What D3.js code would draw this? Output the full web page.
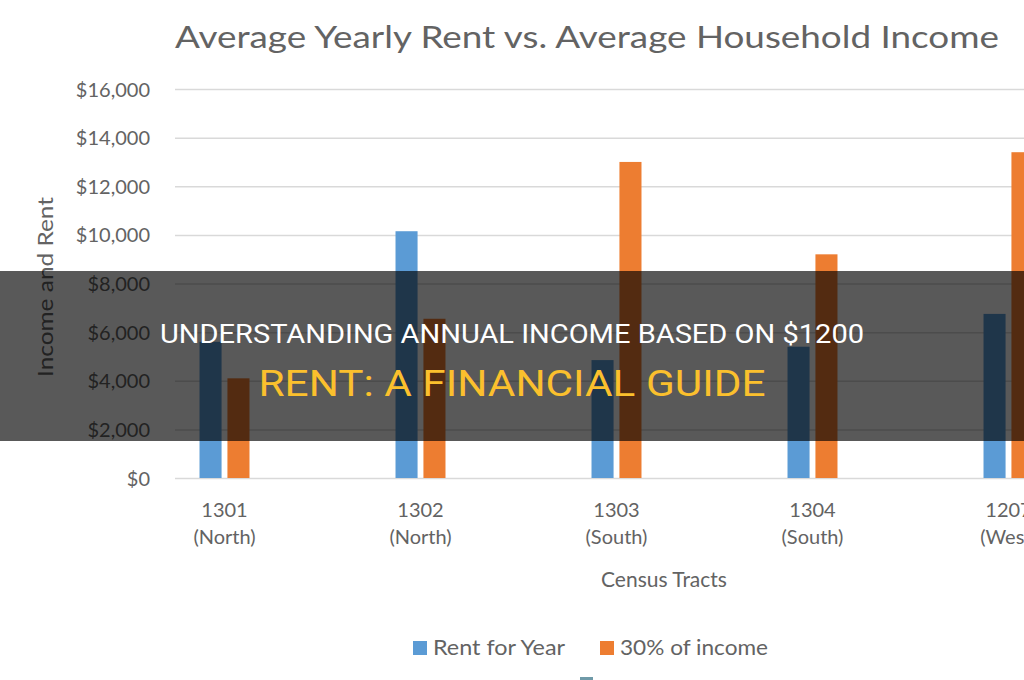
<!DOCTYPE html>
<html>
<head>
<meta charset="utf-8">
<script src="https://cdn.jsdelivr.net/npm/d3@7"></script>
<style>
  html, body { margin: 0; padding: 0; background: #ffffff; }
  svg { display: block; }
</style>
</head>
<body>
<svg id="chart" width="1024" height="680"></svg>
<script>
// ---- data ----
const categories = ["1301", "1302", "1303", "1304", "1207"];
const regions = ["(North)", "(North)", "(South)", "(South)", "(West)"];
const seriesNames = ["Rent for Year", "30% of income"];
const rentForYear = [5600, 10150, 4850, 5400, 6750];
const incomeThirty = [4100, 6550, 13000, 9200, 13400];
const yTicks = [0, 2000, 4000, 6000, 8000, 10000, 12000, 14000, 16000];
const chartTitle = "Average Yearly Rent vs. Average Household Income";
const xTitle = "Census Tracts";
const yTitle = "Income and Rent";
const bannerLine1 = "UNDERSTANDING ANNUAL INCOME BASED ON $1200";
const bannerLine2 = "RENT: A FINANCIAL GUIDE";

const colors = ["#5b9bd5", "#ed7d31"];
const textColor = "#636363";
const font = "Lato, 'Open Sans', sans-serif";

const svg = d3.select("#chart");
const W = 1024, H = 680;
svg.append("rect").attr("width", W).attr("height", H).attr("fill", "#fff");

const plotLeft = 175, plotTop = 89, plotBottom = 478;

const y = d3.scaleLinear().domain([0, 16000]).range([plotBottom, plotTop]);
const x0 = d3.scaleBand().domain(categories).range([126.5, 1106.5])
  .paddingInner(0.745).paddingOuter(0.3725);
const x1 = d3.scaleBand().domain(seriesNames).range([0, x0.bandwidth()]).paddingInner(0.21);

// gridlines
const grid = svg.append("g").attr("transform", `translate(${plotLeft},0)`)
  .call(d3.axisLeft(y).tickValues(yTicks).tickSize(-(W - plotLeft)).tickFormat(""));
grid.select(".domain").remove();
grid.selectAll(".tick line").attr("stroke", "#d9d9d9").attr("stroke-width", 1.5);

// y axis labels
const yAxis = svg.append("g").attr("transform", `translate(${plotLeft},0)`)
  .call(d3.axisLeft(y).tickValues(yTicks).tickSize(0).tickPadding(25)
    .tickFormat(d3.format("$,")));
yAxis.select(".domain").remove();
yAxis.selectAll("text").attr("fill", textColor).attr("font-family", font)
  .attr("font-size", 20).attr("dy", "0.35em");

// bars
const data = categories.map((c, i) => ({ cat: c, vals: [rentForYear[i], incomeThirty[i]] }));
const groups = svg.append("g").selectAll("g").data(data).join("g")
  .attr("transform", d => `translate(${x0(d.cat)},0)`);
groups.selectAll("rect").data(d => d.vals.map((v, j) => ({ s: seriesNames[j], v, j })))
  .join("rect")
  .attr("x", d => x1(d.s))
  .attr("width", x1.bandwidth())
  .attr("y", d => y(d.v))
  .attr("height", d => y(0) - y(d.v))
  .attr("fill", d => colors[d.j]);

// x axis category labels
const xLab = svg.append("g").selectAll("text").data(categories).join("text")
  .attr("x", d => x0(d) + x0.bandwidth() / 2)
  .attr("y", 517)
  .attr("text-anchor", "middle")
  .attr("fill", textColor).attr("font-family", font).attr("font-size", 20);
xLab.append("tspan").text(d => d);
xLab.append("tspan").attr("x", d => x0(d) + x0.bandwidth() / 2).attr("dy", 27)
  .text((d, i) => regions[i]);

// axis titles
svg.append("text").attr("x", 664).attr("y", 587).attr("text-anchor", "middle")
  .attr("fill", textColor).attr("font-family", font).attr("font-size", 21).text(xTitle);
svg.append("text").attr("transform", "translate(53,287) rotate(-90)")
  .attr("text-anchor", "middle").attr("fill", textColor).attr("font-family", font)
  .attr("font-size", 21).attr("textLength", 180).attr("lengthAdjust", "spacingAndGlyphs")
  .text(yTitle);

// chart title
svg.append("text").attr("x", 175).attr("y", 48).attr("fill", textColor)
  .attr("font-family", font).attr("font-size", 31)
  .attr("textLength", 824).attr("lengthAdjust", "spacingAndGlyphs").text(chartTitle);

// legend
const legX = [413, 600], legTextX = [433, 620], legW = [132, 148];
const leg = svg.append("g").selectAll("g").data(seriesNames).join("g");
leg.append("rect").attr("x", (d, i) => legX[i]).attr("y", 641).attr("width", 14).attr("height", 14)
  .attr("fill", (d, i) => colors[i]);
leg.append("text").attr("x", (d, i) => legTextX[i]).attr("y", 655)
  .attr("fill", textColor).attr("font-family", font).attr("font-size", 21)
  .attr("textLength", (d, i) => legW[i]).attr("lengthAdjust", "spacingAndGlyphs")
  .text(d => d);
// partially visible mark at bottom edge
svg.append("rect").attr("x", 580).attr("y", 677).attr("width", 13).attr("height", 4).attr("fill", "#6f9aa8");

// dark banner overlay
svg.append("rect").attr("x", 0).attr("y", 271).attr("width", W).attr("height", 170)
  .attr("fill", "#000").attr("fill-opacity", 0.65);
svg.append("text").attr("x", 512).attr("y", 343).attr("text-anchor", "middle")
  .attr("fill", "#ffffff").attr("font-family", "Roboto, sans-serif").attr("font-size", 26)
  .attr("textLength", 704).attr("lengthAdjust", "spacingAndGlyphs").text(bannerLine1);
svg.append("text").attr("x", 512).attr("y", 396).attr("text-anchor", "middle")
  .attr("fill", "#fbc02d").attr("font-family", "Roboto, sans-serif").attr("font-size", 37)
  .attr("textLength", 507).attr("lengthAdjust", "spacingAndGlyphs").text(bannerLine2);
</script>
</body>
</html>
